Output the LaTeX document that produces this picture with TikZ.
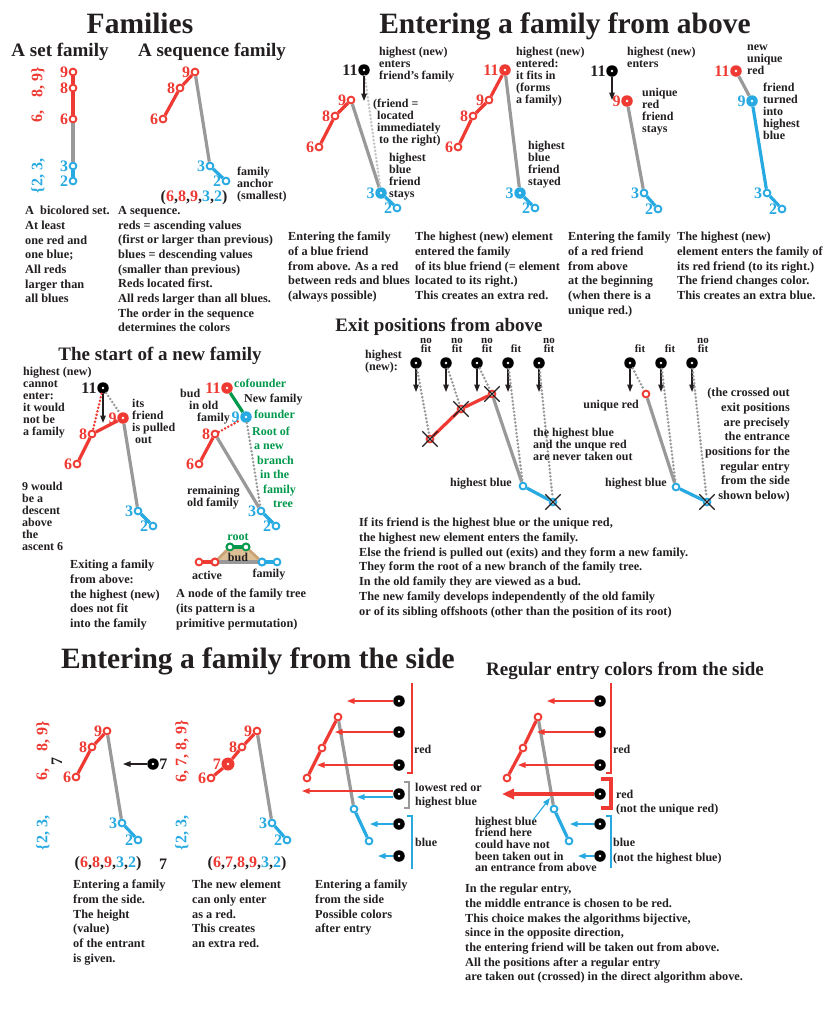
\documentclass[tikz,border=0pt]{standalone}
\usepackage{fontspec}
\setmainfont{Liberation Serif}
\usetikzlibrary{arrows.meta,shapes.misc}
\definecolor{myred}{HTML}{EE3A33}
\definecolor{myblue}{HTML}{27A9E1}
\definecolor{mygray}{HTML}{999999}
\definecolor{mylgray}{HTML}{C4C4C4}
\definecolor{mygreen}{HTML}{00994C}
\definecolor{ink}{HTML}{231F20}
\definecolor{mytan}{HTML}{DDBF96}
\definecolor{mytanline}{HTML}{C9A375}
\newcommand\bodyf{\fontsize{12.3}{14.7}\selectfont\bfseries}
\newcommand\labf{\fontsize{12}{12}\selectfont\bfseries}
\newcommand\labw{\fontsize{12}{14}\selectfont\bfseries}
\newcommand\fitf{\fontsize{11}{9.5}\selectfont\bfseries}
\newcommand\digf{\fontsize{16}{16}\selectfont\bfseries}
\newcommand\setf{\fontsize{16}{16}\selectfont\bfseries}
\newcommand\bigtf{\fontsize{29.5}{30}\selectfont\bfseries}
\newcommand\midtf{\fontsize{19}{20}\selectfont\bfseries}
\newcommand\cR[1]{\textcolor{myred}{#1}}
\newcommand\cB[1]{\textcolor{myblue}{#1}}
\tikzset{
  tb/.style={font=\bodyf, align=left, anchor=north west, inner sep=0pt, text=ink},
  tl/.style={font=\labf, align=left, anchor=north west, inner sep=0pt, text=ink},
  tlr/.style={font=\labf, align=right, anchor=north east, inner sep=0pt, text=ink},
  ttl/.style={font=\bigtf, text=ink, inner sep=0pt, anchor=base},
  tst/.style={font=\midtf, text=ink, inner sep=0pt, anchor=base},
  fitl/.style={font=\fitf, text=ink, inner sep=0pt, align=center},
  rot/.style={font=\setf, rotate=90, inner sep=0pt},
  seqf/.style={font=\setf, text=ink, inner sep=0pt},
  hol/.style={circle, fill=white, line width=1.9pt, inner sep=0pt, minimum size=6.8pt, draw=#1},
  fdot/.style={circle, fill=#1, inner sep=0pt, minimum size=11.5pt, path picture={\fill[white] (path picture bounding box.center) circle (1.4pt);}},
  dg/.style={font=\digf, text=#1, inner sep=0.3pt},
  ln/.style={line width=3.2pt, draw=#1},
  dts/.style={line width=2.8pt, draw=#1, dash pattern=on 0pt off 3.6pt, line cap=round},
  arr/.style={-{Triangle[length=7.5pt,width=5.5pt]}, line width=1.3pt, draw=#1},
  xx/.style={draw=ink, cross out, line width=1.3pt, minimum size=14pt, inner sep=0pt},
}
\newcommand\HR[4]{\node[hol=myred,label={[dg=myred]left:#4}] (#1) at (#2,#3) {};}
\newcommand\HB[4]{\node[hol=myblue,label={[dg=myblue]left:#4}] (#1) at (#2,#3) {};}
\newcommand\HRn[3]{\node[hol=myred] (#1) at (#2,#3) {};}
\newcommand\HBn[3]{\node[hol=myblue] (#1) at (#2,#3) {};}
\newcommand\HGn[3]{\node[hol=mygreen] (#1) at (#2,#3) {};}
\newcommand\FD[6]{\node[fdot=#4,label={[dg=#5]left:#6}] (#1) at (#2,#3) {};}
\newcommand\FDn[4]{\node[fdot=#4] (#1) at (#2,#3) {};}
\begin{document}
\begin{tikzpicture}[x=1pt,y=-1pt]
\useasboundingbox (0,0) rectangle (831,1013);
\fill[white] (0,0) rectangle (831,1013);
% ---------- titles
\node[ttl] (T1) at (140,33) {Families};
\node[ttl] (T2) at (565,33) {Entering a family from above};
\node[tst] (T3) at (60,56) {A set family};
\node[tst] (T4) at (212,56) {A sequence family};
\node[tst] (T5) at (160,360) {The start of a new family};
\node[tst] (T6) at (439,331) {Exit positions from above};
\node[ttl] (T7) at (258,668) {Entering a family from the side};
\node[tst] (T8) at (625,675) {Regular entry colors from the side};
% ---------- set family
\HR{s9}{73}{72}{9}\HR{s8}{73}{88}{8}\HR{s6}{73}{119}{6}\HB{s3}{73}{166}{3}\HB{s2}{73}{181}{2}
\draw[ln=myred] (s9)--(s8) (s8)--(s6);
\draw[ln=mygray] (s6)--(s3);
\draw[ln=myblue] (s3)--(s2);
\node[rot,text=myblue] (sr1) at (38,176) {\{2, 3,};
\node[rot,text=myred] (sr2) at (38,116) {6,};
\node[rot,text=myred] (sr3) at (38,82) {8, 9\}};
% ---------- sequence family
\HR{q6}{163}{119}{6}\HR{q8}{180}{88}{8}\HR{q9}{195}{72}{9}\HB{q3}{210}{166}{3}\HB{q2}{226}{181}{2}
\draw[ln=myred] (q6)--(q8) (q8)--(q9);
\draw[ln=mygray] (q9)--(q3);
\draw[ln=myblue] (q3)--(q2);
\node[tl] (qa) at (237,166.5) {family\\anchor\\(smallest)};
\node[seqf] (qs) at (194,198) {(\cR{6},\cR{8},\cR{9},\cB{3},\cB{2})};
\node[tb] (c1) at (25,206) {A\ \ bicolored set.\\At least\\one red and\\one blue;\\All reds\\larger than\\all blues};
\node[tb] (c2) at (118,206) {A sequence.\\reds = ascending values\\(first or larger than previous)\\blues = descending values\\(smaller than previous)\\Reds located first.\\All reds larger than all blues.\\The order in the sequence\\determines the colors};
% ---------- panel A
\FD{A11}{364}{70}{black}{ink}{11}
\HR{A9}{351}{100}{9}\HR{A8}{335}{116}{8}\HR{A6}{319}{147}{6}
\node[fdot=myblue,label={[dg=myblue]left:3}] (A3) at (381,193) {};
\HB{A2}{397}{208}{2}
\draw[ln=myred] (A6)--(A8) (A8)--(A9);
\draw[ln=mygray] (A9)--(A3);
\draw[ln=myblue] (A3)--(A2);
\draw[dts=mylgray] (A11)--(A3);
\coordinate (A11t) at (364,101);
\draw[arr=ink] (A11)--(A11t);
\node[tl] (Aa) at (379,46.5) {highest (new)\\enters\\friend’s family};
\node[tl] (Ab) at (373,98.5) {(friend =\\\hphantom{(}located\\\hphantom{(}immediately\\\hphantom{(}\hspace*{2pt}to the right)};
\node[tl] (Ac) at (389,152.5) {highest\\blue\\friend\\stays};
% ---------- panel B
\FD{B11}{505}{70}{myred}{myred}{11}
\HR{B9}{489}{100}{9}\HR{B8}{473}{116}{8}\HR{B6}{458}{147}{6}
\node[fdot=myblue,label={[dg=myblue]left:3}] (B3) at (520,193) {};
\HB{B2}{535}{208}{2}
\draw[ln=myred] (B6)--(B8) (B8)--(B9) (B9)--(B11);
\draw[ln=mygray] (B11)--(B3);
\draw[ln=myblue] (B3)--(B2);
\node[tl] (Ba) at (516,46.5) {highest (new)\\entered:\\it fits in\\(forms\\a family)};
\node[tl] (Bb) at (528,140.5) {highest\\blue\\friend\\stayed};
% ---------- panel C
\FD{C11}{612}{71}{black}{ink}{11}
\FD{C9}{627}{101}{myred}{myred}{9}
\HB{C3}{644}{193}{3}\HB{C2}{658}{209}{2}
\draw[ln=mygray] (C9)--(C3);
\draw[ln=myblue] (C3)--(C2);
\coordinate (C11t) at (612,100);
\draw[arr=ink] (C11)--(C11t);
\node[tl] (Ca) at (627,46.5) {highest (new)\\enters};
\node[tl] (Cb) at (642,87.5) {unique\\red\\friend\\stays};
% ---------- panel D
\FD{D11}{736}{71}{myred}{myred}{11}
\FD{D9}{752}{101}{myblue}{myblue}{9}
\HB{D3}{767}{193}{3}\HB{D2}{782}{209}{2}
\draw[ln=mygray] (D11)--(D9);
\draw[ln=myblue] (D9)--(D3) (D3)--(D2);
\node[tl] (Da) at (747,44.5) {new\\unique\\red};
\node[tl] (Db) at (763,82.5) {friend\\turned\\into\\highest\\blue};
% ---------- captions
\node[tb] (c3) at (288,232) {Entering the family\\of a blue friend\\from above. As a red\\between reds and blues\\(always possible)};
\node[tb] (c4) at (415,232) {The highest (new) element\\entered the family\\of its blue friend (= element\\located to its right.)\\This creates an extra red.};
\node[tb] (c5) at (568,232) {Entering the family\\of a red friend\\from above\\at the beginning\\(when there is a\\unique red.)};
\node[tb] (c6) at (677,232) {The highest (new)\\element enters the family of\\its red friend (to its right.)\\The friend changes color.\\This creates an extra blue.};
% ---------- exit positions left
\foreach \n/\x in {1/416,2/446,3/477,4/508,5/539}{
  \FDn{E\n}{\x}{363}{black}
  \coordinate (E\n t) at (\x,392);
  \draw[arr=ink] (E\n)--(E\n t);
}
\node[fitl] (Ef1) at (426,345.5) {no\\fit};
\node[fitl] (Ef2) at (457,345.5) {no\\fit};
\node[fitl] (Ef3) at (487,345.5) {no\\fit};
\node[fitl] (Ef4) at (516,349) {fit};
\node[fitl] (Ef5) at (549,345.5) {no\\fit};
\HRn{X1}{430}{439}\HRn{X2}{461}{409}\HRn{X3}{492}{394}\HBn{Xb}{523}{486}\HBn{X5}{553}{502}
\draw[ln=myred] (X1)--(X2) (X2)--(X3);
\draw[ln=mygray] (X3)--(Xb);
\draw[ln=myblue] (Xb)--(X5);
\draw[dts=mygray] (E1)--(X1) (E2)--(X2) (E3)--(X3) (E4)--(Xb) (E5)--(X5);
\node[xx] (Xc1) at (X1) {};
\node[xx] (Xc2) at (X2) {};
\node[xx] (Xc3) at (X3) {};
\node[xx] (Xc5) at (X5) {};
\node[tl] (Ea) at (365,349.5) {highest\\(new):};
\node[tlr] (Eb) at (512,477.5) {highest blue};
\node[tl] (Ec) at (533,427.5) {the highest blue\\and the unque red\\are never taken out};
% ---------- exit positions right
\foreach \n/\x in {1/630,2/661,3/692}{
  \FDn{F\n}{\x}{363}{black}
  \coordinate (F\n t) at (\x,392);
  \draw[arr=ink] (F\n)--(F\n t);
}
\node[fitl] (Ff1) at (640,349) {fit};
\node[fitl] (Ff2) at (670,349) {fit};
\node[fitl] (Ff3) at (703,345.5) {no\\fit};
\HRn{FR}{646}{394}\HBn{FB}{676}{487}\HBn{F5}{707}{502}
\draw[ln=mygray] (FR)--(FB);
\draw[ln=myblue] (FB)--(F5);
\draw[dts=mygray] (F1)--(FR) (F2)--(FB) (F3)--(F5);
\node[xx] (Fc5) at (F5) {};
\node[tlr] (Fa) at (639,399.5) {unique red};
\node[tlr] (Fb) at (667,477.5) {highest blue};
\node[tb,align=right,anchor=north east] (Fc) at (790,388) {(the crossed out\\exit positions\\are precisely\\the entrance\\positions for the\\regular entry\\from the side\\shown below)};
\node[tb] (c7) at (359,518) {If its friend is the highest blue or the unique red,\\the highest new element enters the family.\\Else the friend is pulled out (exits) and they form a new family.\\They form the root of a new branch of the family tree.\\In the old family they are viewed as a bud.\\The new family develops independently of the old family\\or of its sibling offshoots (other than the position of its root)};
% ---------- start of new family, left
\node[tl] (Ga) at (23,366.5) {highest (new)\\cannot\\enter:\\it would\\not be\\a family};
\FD{G11}{103}{388}{black}{ink}{11}
\FD{G9}{123}{418}{myred}{myred}{9}
\HR{G8}{92}{434}{8}\HR{G6}{77}{464}{6}\HB{G3}{138}{511}{3}\HB{G2}{153}{526}{2}
\draw[ln=myred] (G6)--(G8) (G8)--(G9);
\draw[ln=mygray] (G9)--(G3);
\draw[ln=myblue] (G3)--(G2);
\draw[dts=myred] (G11)--(G8);
\draw[dts=mygray] (G11)--(G9);
\coordinate (G11t) at (103,423);
\draw[arr=ink] (G11)--(G11t);
\node[tl] (Gb) at (132,398.5) {its\\friend\\is pulled\\\hspace*{3pt}out};
\node[tl] (Gc) at (22,481.5) {9 would\\be a\\descent\\above\\the\\ascent 6};
\node[tb] (c8) at (70,560) {Exiting a family\\from above:\\the highest (new)\\does not fit\\into the family};
% ---------- start of new family, right
\FD{H11}{227}{388}{myred}{myred}{11}
\FD{H9}{246}{417}{myblue}{myblue}{9}
\HR{H8}{215}{434}{8}\HR{H6}{199}{464}{6}\HB{H3}{261}{511}{3}\HB{H2}{276}{526}{2}
\draw[ln=mygreen] (H11)--(H9);
\draw[ln=myred] (H6)--(H8);
\draw[ln=mygray] (H8)--(H3);
\draw[ln=myblue] (H3)--(H2);
\draw[dts=myred] (H8)--(H9);
\draw[dts=mygray] (H9)--(H3);
\node[tl,text=mygreen] (Ha) at (234,378.5) {cofounder};
\node[tl] (Hb) at (244,393.5) {New family};
\node[tl,text=mygreen] (Hc) at (254,409.5) {founder};
\node[tl] (Hd1) at (180,388.5) {bud};
\node[tl] (Hd2) at (189,400.5) {in old};
\node[tl] (Hd3) at (197,412.5) {family};
\node[tl,text=mygreen,font=\fontsize{12}{14.5}\selectfont\bfseries] (He) at (252,426.5) {Root of\\\hspace*{2pt}a new\\\hspace*{5pt}branch\\\hspace*{8pt}in the\\\hspace*{11pt}family\\\hspace*{21pt}tree};
\node[tl] (Hf) at (187,485.5) {remaining\\old family};
% bud diagram
\HRn{K1}{199}{562}\HRn{K2}{215}{562}\HGn{K3}{230}{547}\HGn{K4}{246}{547}\HBn{K5}{262}{562}\HBn{K6}{277}{562}
\fill[mytan] (K2.center)--(K3.center)--(K4.center)--(K5.center)--cycle;
\draw[mytanline,line width=2.6pt] (K2)--(K3) (K4)--(K5);
\draw[ln=myred] (K1)--(K2);
\draw[ln=mygray] (K2)--(K5);
\draw[ln=mygreen] (K3)--(K4);
\draw[ln=myblue] (K5)--(K6);
\node[hol=myred] (K2b) at (K2) {};\node[hol=mygreen] (K3b) at (K3) {};\node[hol=mygreen] (K4b) at (K4) {};\node[hol=myblue] (K5b) at (K5) {};
\node[tl,anchor=center,text=mygreen] (Ka) at (238,537) {root};
\node[tl,anchor=center] (Kb) at (238,557) {bud};
\node[tl,anchor=center] (Kc) at (207,575) {active};
\node[tl,anchor=center] (Kd) at (269,575) {family};
\node[tb] (c9) at (176,589) {A node of the family tree\\(its pattern is a\\primitive permutation)};
% ---------- side entry, left
\HR{L6}{76}{777}{6}\HR{L8}{92}{747}{8}\HR{L9}{107}{731}{9}\HB{L3}{122}{823}{3}\HB{L2}{138}{840}{2}
\draw[ln=myred] (L6)--(L8) (L8)--(L9);
\draw[ln=mygray] (L9)--(L3);
\draw[ln=myblue] (L3)--(L2);
\node[fdot=black,label={[dg=ink]right:7}] (L7) at (153,764) {};
\coordinate (L7t) at (123,764);
\draw[arr=ink] (L7)--(L7t);
\node[rot,text=myblue] (Lr1) at (43,833) {\{2, 3,};
\node[rot,text=myred] (Lr2) at (43,774) {6,};
\node[rot,text=myred] (Lr3) at (43,736) {8, 9\}};
\node[rot,text=ink] (Lr4) at (57,761) {7};
\node[seqf] (Ls) at (108,864) {(\cR{6},\cR{8},\cR{9},\cB{3},\cB{2})};
\node[seqf] (Ls7) at (163,864) {7};
\node[tb] (c10) at (73,880) {Entering a family\\from the side.\\The height\\(value)\\of the entrant\\is given.};
% ---------- side entry, middle
\HR{M6}{211}{778}{6}
\node[fdot=myred,minimum size=13pt,label={[dg=myred]left:7}] (M7) at (228,764) {};
\HR{M8}{242}{747}{8}\HR{M9}{257}{731}{9}\HB{M3}{272}{823}{3}\HB{M2}{287}{840}{2}
\draw[ln=myred] (M6)--(M7) (M7)--(M8) (M8)--(M9);
\draw[ln=mygray] (M9)--(M3);
\draw[ln=myblue] (M3)--(M2);
\node[rot,text=myblue] (Mr1) at (182,833) {\{2, 3,};
\node[rot,text=myred] (Mr2) at (182,751) {6, 7, 8, 9\}};
\node[seqf] (Ms) at (247,864) {(\cR{6},\cR{7},\cR{8},\cR{9},\cB{3},\cB{2})};
\node[tb] (c11) at (192,880) {The new element\\can only enter\\as a red.\\This creates\\an extra red.};
% ---------- side entry, possible colors
\HRn{P1}{338}{717}\HRn{P2}{322}{748}\HRn{P3}{307}{778}\HBn{PB}{354}{809}\HBn{PB2}{369}{841}
\draw[ln=myred] (P3)--(P2) (P2)--(P1);
\draw[ln=mygray] (P1)--(PB);
\draw[ln=myblue] (PB)--(PB2);
\foreach \n/\y in {1/701,2/732,3/765,4/794,5/824,6/856}{\FDn{S\n}{399}{\y}{black}}
\coordinate (S1t) at (347,701);\coordinate (S2t) at (335,732);\coordinate (S3t) at (317,765);
\coordinate (S4t) at (302,791);\coordinate (S4u) at (357,797);\coordinate (S5t) at (370,824);\coordinate (S6t) at (378,856);
\draw[arr=myred] (S1)--(S1t);
\draw[arr=myred] (S2)--(S2t);
\draw[arr=myred] (S3)--(S3t);
\draw[arr=myred] ([yshift=3pt]S4.west)--(S4t);
\draw[arr=myblue] ([yshift=-3pt]S4.west)--(S4u);
\draw[arr=myblue] (S5)--(S5t);
\draw[arr=myblue] (S6)--(S6t);
\draw[myred,line width=1.4pt] (412,683)--(412,773)--(407,773);
\draw[mygray,line width=1.4pt] (404,782)--(409,782)--(409,808)--(404,808);
\draw[myblue,line width=1.4pt] (407,816)--(412,816)--(412,869);
\node[tl] (Pa) at (414,744.5) {red};
\node[tl,font=\labw] (Pb) at (415,782.5) {lowest red or\\highest blue};
\node[tl] (Pc) at (415,837.5) {blue};
\node[tb] (c12) at (315,880) {Entering a family\\from the side\\Possible colors\\after entry};
% ---------- regular entry colors
\HRn{R1}{538}{717}\HRn{R2}{523}{748}\HRn{R3}{507}{778}\HBn{RB}{554}{809}\HBn{RB2}{569}{841}
\draw[ln=myred] (R3)--(R2) (R2)--(R1);
\draw[ln=mygray] (R1)--(RB);
\draw[ln=myblue] (RB)--(RB2);
\foreach \n/\y in {1/701,2/732,3/765,4/794,5/824,6/856}{\FDn{U\n}{600}{\y}{black}}
\coordinate (U1t) at (547,701);\coordinate (U2t) at (537,732);\coordinate (U3t) at (518,765);
\coordinate (U4t) at (502,794);\coordinate (U5t) at (570,824);\coordinate (U6t) at (578,856);
\draw[arr=myred] (U1)--(U1t);
\draw[arr=myred] (U2)--(U2t);
\draw[arr=myred] (U3)--(U3t);
\draw[-{Triangle[length=12pt,width=10pt]},line width=3.4pt,myred] (U4)--(U4t);
\draw[arr=myblue] (U5)--(U5t);
\draw[arr=myblue] (U6)--(U6t);
\draw[myred,line width=1.4pt] (611,683)--(611,773)--(606,773);
\draw[myred,line width=4.2pt] (601,779)--(611,779)--(611,808)--(601,808);
\draw[myblue,line width=1.4pt] (606,816)--(611,816)--(611,868);
\node[tl] (Ra) at (613,744.5) {red};
\node[tl,font=\labw] (Rb) at (616,789.5) {red\\(not the unique red)};
\node[tl,font=\fontsize{12}{15}\selectfont\bfseries] (Rc) at (613,837.5) {blue\\(not the highest blue)};
\node[tl,font=\fontsize{12}{11.7}\selectfont\bfseries] (Rd) at (475,816.5) {highest blue\\friend here\\could have not\\been taken out in\\an entrance from above};
\coordinate (Rd1) at (533,820);\coordinate (Rd2) at (550,798);
\draw[arr=myblue,line width=1.1pt] (Rd1)--(Rd2);
\node[tb] (c13) at (465,884) {In the regular entry,\\the middle entrance is chosen to be red.\\This choice makes the algorithms bijective,\\since in the opposite direction,\\the entering friend will be taken out from above.\\All the positions after a regular entry\\are taken out (crossed) in the direct algorithm above.};
\end{tikzpicture}
\end{document}
